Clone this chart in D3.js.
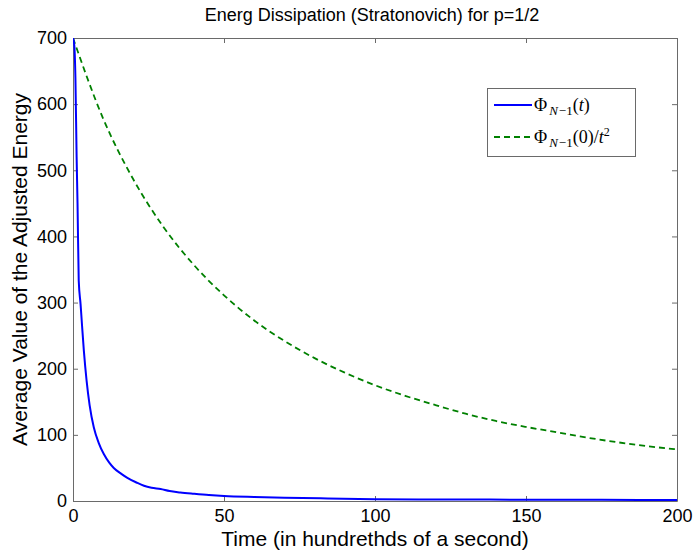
<!DOCTYPE html>
<html>
<head>
<meta charset="utf-8">
<script src="https://cdn.jsdelivr.net/npm/d3@7"></script>
<style>
  body { margin: 0; background: #fff; }
  svg { display: block; font-family: "Liberation Sans", Arial, sans-serif; }
</style>
</head>
<body>
<svg id="chart"></svg>
<script>
// values
const phiTime = [0, 0.4, 0.8, 1.2, 1.5, 1.9, 2.5, 3, 3.6, 4.5, 5.5, 6.9, 8.5, 10.2, 12, 13.5, 16, 18, 21, 23.5, 26, 29, 32, 35.5, 40, 45, 50, 60, 70, 82, 100, 125, 150, 175, 200];
const phiValue = [700, 690, 640, 520, 450, 333, 298, 265, 227, 182, 145, 111, 88, 71, 58, 50, 41, 35, 28, 23, 20, 18, 15, 13, 11, 9, 7.5, 6, 5, 4, 2.8, 2.3, 2, 1.8, 1.6];
const refTime = [0, 10, 20, 30, 40, 50, 60, 70, 80, 90, 100, 110, 120, 130, 140, 150, 160, 170, 180, 190, 200];
const refValue = [700, 578, 486, 414, 357, 311, 273, 242, 216, 194, 175, 159, 145, 132, 121, 112, 104, 96, 89, 83, 78];
const xTicks = [0, 50, 100, 150, 200];
const yTicks = [0, 100, 200, 300, 400, 500, 600, 700];

let width = 694, height = 554;
let marginLeft = 73, marginRight = 17, marginTop = 38, marginBottom = 53;
let axisColor = "#6a6a6a";

const svg = d3.select("#chart")
    .attr("width", width)
    .attr("height", height)
    .attr("viewBox", [0, 0, width, height]);

const x = d3.scaleLinear([0, 200], [marginLeft, width - marginRight]);
const y = d3.scaleLinear([0, 700], [height - marginBottom, marginTop]);

svg.append("defs").append("clipPath").attr("id", "plot")
  .append("rect")
    .attr("x", marginLeft).attr("y", marginTop)
    .attr("width", width - marginLeft - marginRight)
    .attr("height", height - marginTop - marginBottom);

// axes, MATLAB style: ticks inside, on all four sides
const tickLen = -5;
const styleAxis = g => {
    g.attr("font-size", 18).attr("font-family", null);
    g.select(".domain").attr("stroke", axisColor);
    g.selectAll(".tick line").attr("stroke", axisColor);
    g.selectAll(".tick text").attr("fill", "#000");
};

svg.append("g")
    .attr("transform", `translate(0,${height - marginBottom})`)
    .call(d3.axisBottom(x).tickValues(xTicks).tickSize(tickLen).tickSizeOuter(0).tickPadding(8))
    .call(styleAxis);
svg.append("g")
    .attr("transform", `translate(0,${marginTop})`)
    .call(d3.axisTop(x).tickValues(xTicks).tickSize(tickLen).tickSizeOuter(0).tickFormat(""))
    .call(styleAxis);
svg.append("g")
    .attr("transform", `translate(${marginLeft},0)`)
    .call(d3.axisLeft(y).tickValues(yTicks).tickSize(tickLen).tickSizeOuter(0).tickPadding(6))
    .call(styleAxis);
svg.append("g")
    .attr("transform", `translate(${width - marginRight},0)`)
    .call(d3.axisRight(y).tickValues(yTicks).tickSize(tickLen).tickSizeOuter(0).tickFormat(""))
    .call(styleAxis);

// curves
const plot = svg.append("g").attr("clip-path", "url(#plot)");

const phiLine = d3.line()
    .x((d, i) => x(phiTime[i]))
    .y(d => y(d))
    .curve(d3.curveMonotoneX);
const refLine = d3.line()
    .x((d, i) => x(refTime[i]))
    .y(d => y(d))
    .curve(d3.curveMonotoneX);

plot.append("path")
    .attr("d", refLine(refValue))
    .attr("fill", "none")
    .attr("stroke", "#008000")
    .attr("stroke-width", 1.8)
    .attr("stroke-dasharray", "6,4");

plot.append("path")
    .attr("d", phiLine(phiValue))
    .attr("fill", "none")
    .attr("stroke", "#0000ff")
    .attr("stroke-width", 2);

// title and axis labels
svg.append("text")
    .attr("x", 372)
    .attr("y", 21)
    .attr("text-anchor", "middle")
    .attr("font-size", 18)
    .text("Energ Dissipation (Stratonovich) for p=1/2");

svg.append("text")
    .attr("x", 375)
    .attr("y", 546)
    .attr("text-anchor", "middle")
    .attr("font-size", 21)
    .text("Time (in hundrethds of a second)");

svg.append("text")
    .attr("transform", `translate(27,${(marginTop + height - marginBottom) / 2}) rotate(-90)`)
    .attr("text-anchor", "middle")
    .attr("font-size", 21)
    .text("Average Value of the Adjusted Energy");

// legend
const legend = svg.append("g");
legend.append("rect")
    .attr("x", 487.5).attr("y", 88.5)
    .attr("width", 148).attr("height", 68)
    .attr("fill", "#fff")
    .attr("stroke", axisColor);

const entries = [
    {color: "#0000ff", dash: null, width: 2, arg: "(", tail: ")", sup: false},
    {color: "#008000", dash: "6,4", width: 1.8, arg: "(0)/", tail: "", sup: true}
];
entries.forEach((e, i) => {
    const ly = 105 + i * 32;
    legend.append("line")
        .attr("x1", 494).attr("x2", 532)
        .attr("y1", ly).attr("y2", ly)
        .attr("stroke", e.color)
        .attr("stroke-width", e.width)
        .attr("stroke-dasharray", e.dash);
    const t = legend.append("text")
        .attr("x", 534).attr("y", ly + 6)
        .attr("font-family", "'Liberation Serif', 'Times New Roman', serif")
        .attr("font-size", 18);
    t.append("tspan").text("Φ");
    t.append("tspan").attr("dx", 2).attr("dy", 4).attr("font-size", 13).attr("font-style", "italic").text("N");
    t.append("tspan").attr("dx", 1).attr("font-size", 13).text("−1");
    t.append("tspan").attr("dy", -4).text(e.arg);
    t.append("tspan").attr("font-style", "italic").text("t");
    if (e.sup) t.append("tspan").attr("dy", -7).attr("font-size", 12).text("2");
    else t.append("tspan").text(e.tail);
});
</script>
</body>
</html>
